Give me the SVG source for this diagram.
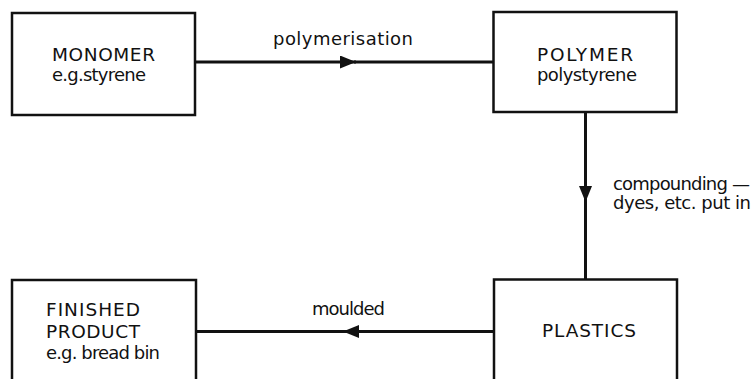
<svg xmlns="http://www.w3.org/2000/svg" width="753" height="379" viewBox="0 0 753 379">
<style>
.box{fill:#fff;stroke:#111;stroke-width:2.5}
.t{font-family:"DejaVu Sans",sans-serif;font-size:18px;fill:#111}
.k{font-size:18.5px}
.c{fill:none;stroke:#111;stroke-width:3}
</style>
<defs>
<marker id="ah" markerUnits="userSpaceOnUse" markerWidth="17" markerHeight="14" refX="16" refY="6.5" orient="auto">
<path d="M0,0 L16,6.5 L0,13 z" fill="#111"/>
</marker>
</defs>
<rect width="753" height="379" fill="#fff"/>
<g id="connectors">
<path class="c" d="M195,62 H356" marker-end="url(#ah)"/>
<path class="c" d="M354,62 H493"/>
<text class="t" x="273" y="44.5" textLength="140">polymerisation</text>
<path class="c" d="M585.5,112 V202" marker-end="url(#ah)"/>
<path class="c" d="M585.5,200 V279"/>
<text class="t" x="613" y="189.5" textLength="137">compounding —</text>
<text class="t" x="613" y="209" textLength="138">dyes, etc. put in</text>
<path class="c" d="M494,331.5 H343" marker-end="url(#ah)"/>
<path class="c" d="M345,331.5 H196"/>
<text class="t" x="312" y="315" textLength="73">moulded</text>
</g>
<g id="monomer">
<rect class="box" x="12" y="13" width="183" height="102"/>
<text class="t k" x="52" y="61" textLength="103">MONOMER</text>
<text class="t" x="52" y="81" textLength="94">e.g.styrene</text>
</g>
<g id="polymer">
<rect class="box" x="493.5" y="12" width="183" height="100"/>
<text class="t k" x="537" y="61" textLength="96">POLYMER</text>
<text class="t" x="537" y="81" textLength="100">polystyrene</text>
</g>
<g id="plastics">
<rect class="box" x="494" y="279.5" width="183" height="110"/>
<text class="t k" x="542" y="337" textLength="94">PLASTICS</text>
</g>
<g id="finished">
<rect class="box" x="12" y="280" width="184" height="110"/>
<text class="t k" x="46" y="316" textLength="94">FINISHED</text>
<text class="t k" x="46" y="337.5" textLength="94">PRODUCT</text>
<text class="t" x="46" y="359" textLength="114">e.g. bread bin</text>
</g>
</svg>
